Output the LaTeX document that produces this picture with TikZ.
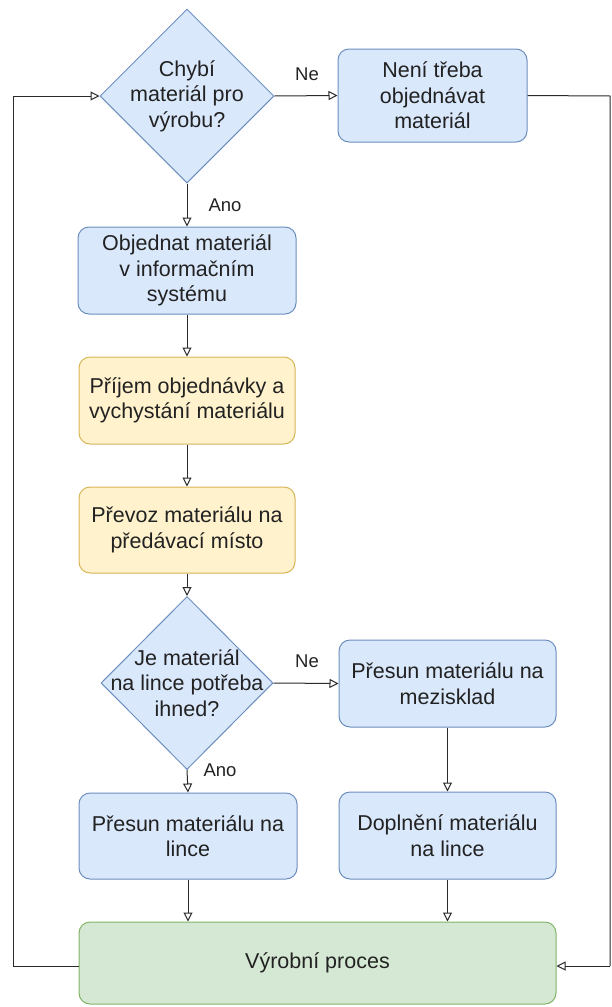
\documentclass[tikz,border=0pt]{standalone}
\usepackage{fontspec}
\setmainfont{Liberation Sans}
\usetikzlibrary{shapes.geometric,arrows.meta}
\definecolor{bluefill}{HTML}{DAE8FC}
\definecolor{bluedraw}{HTML}{6C8EBF}
\definecolor{yellowfill}{HTML}{FFF2CC}
\definecolor{yellowdraw}{HTML}{D6B656}
\definecolor{greenfill}{HTML}{D5E8D4}
\definecolor{greendraw}{HTML}{82B366}
\definecolor{txt}{HTML}{222222}
\definecolor{wire}{HTML}{2A2A2A}
\tikzset{
  box/.style={rectangle, rounded corners=11pt, line width=1pt, align=center,
    text=txt, font=\fontsize{21.5}{25.5}\selectfont, inner sep=0pt},
  bluebox/.style={box, fill=bluefill, draw=bluedraw},
  yellowbox/.style={box, fill=yellowfill, draw=yellowdraw},
  greenbox/.style={box, fill=greenfill, draw=greendraw},
  decision/.style={diamond, fill=bluefill, draw=bluedraw, line width=1pt,
    inner sep=0pt, aspect=1},
  dtext/.style={align=center, text=txt, font=\fontsize{21.5}{25.5}\selectfont, inner sep=0pt},
  lbl/.style={text=txt, font=\fontsize{18.5}{22}\selectfont, inner sep=0pt},
  flow/.style={draw=wire, line width=1pt, -{Triangle[open, length=9pt, width=9pt]}},
  wirel/.style={draw=wire, line width=1pt}
}
\begin{document}
\begin{tikzpicture}[x=1pt, y=-1pt]
\useasboundingbox (0,0) rectangle (611,1007);

% decisions
\node[decision, minimum width=174pt, minimum height=174pt] (d1) at (187,96) {};
\node[dtext] (d1t) at (187,96) {Chybí\\materiál pro\\výrobu?};
\node[decision, minimum width=172pt, minimum height=173pt] (d2) at (187,683) {};
\node[dtext] (d2t) at (187,683) {Je materiál\\na lince potřeba\\ihned?};

% process steps
\node[bluebox, minimum width=189pt, minimum height=93pt] (neni) at (432.5,95.5) {Není třeba\\objednávat\\materiál};
\node[bluebox, minimum width=218pt, minimum height=87pt] (obj) at (187,270.5) {Objednat materiál\\v informačním\\systému};
\node[yellowbox, minimum width=216pt, minimum height=87pt] (prij) at (187,400.5) {Příjem objednávky a\\vychystání materiálu};
\node[yellowbox, minimum width=216pt, minimum height=86pt] (prev) at (187,530) {Převoz materiálu na\\předávací místo};
\node[bluebox, minimum width=217pt, minimum height=87pt] (mezi) at (447.5,683.5) {Přesun materiálu na\\mezisklad};
\node[bluebox, minimum width=218pt, minimum height=86pt] (lince) at (188,836) {Přesun materiálu na\\lince};
\node[bluebox, minimum width=217pt, minimum height=87pt] (dopl) at (447.5,835.5) {Doplnění materiálu\\na lince};
\node[greenbox, minimum width=477pt, minimum height=82pt] (vyr) at (317.5,963) {Výrobní proces};

% return paths
\coordinate (rtop) at (610,96);
\coordinate (rbot) at (610,966);
\coordinate (ltop) at (13,96);
\coordinate (lbot) at (13,966);

% connectors
\draw[flow] (d1.east) -- (neni.west);
\draw[flow] (d1.south) -- (obj.north);
\draw[flow] (obj.south) -- (prij.north);
\draw[flow] (prij.south) -- (prev.north);
\draw[flow] (prev.south) -- (d2.north);
\draw[flow] (d2.east) -- (mezi.west);
\draw[flow] (d2.south) -- (lince.north);
\draw[flow] (mezi.south) -- (dopl.north);
\draw[flow] (lince.south) -- (lince.south |- vyr.north);
\draw[flow] (dopl.south) -- (dopl.south |- vyr.north);
\draw[wirel] (neni.east) -- (rtop) -- (rbot);
\draw[flow] (rbot) -- (rbot -| vyr.east);
\draw[wirel] (lbot -| vyr.west) -- (lbot) -- (ltop);
\draw[flow] (ltop) -- (d1.west);

% branch labels
\node[lbl] (ne1) at (307,74) {Ne};
\node[lbl] (ano1) at (225,205) {Ano};
\node[lbl] (ne2) at (307,661) {Ne};
\node[lbl] (ano2) at (220,770) {Ano};
\end{tikzpicture}
\end{document}
